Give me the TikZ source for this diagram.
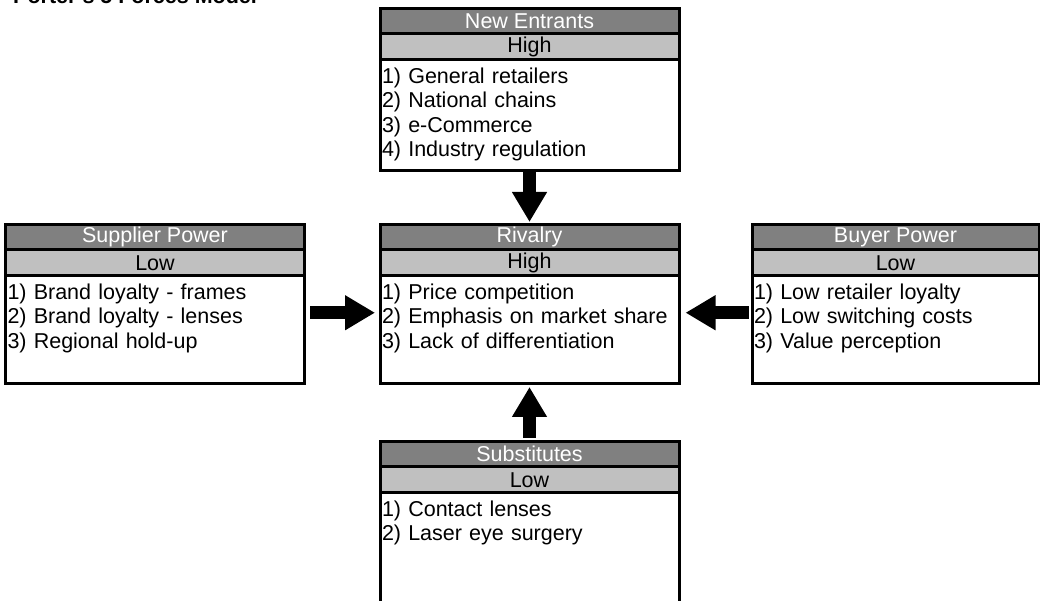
\documentclass[tikz,border=0pt]{standalone}
\usepackage{fontspec}
\setmainfont{Liberation Sans}
\usetikzlibrary{positioning,arrows.meta}
\definecolor{headgray}{RGB}{128,128,128}
\definecolor{levelgray}{RGB}{192,192,192}

\begin{document}
\begin{tikzpicture}[x=1pt, y=1pt, node distance=0pt]
        % Define styles
        \tikzstyle{head} = [rectangle, draw, line width=3pt, fill=headgray, text=white,
            minimum width=299pt, minimum height=25.5pt, inner sep=0pt, outer sep=0pt,
            font=\fontsize{21.5}{24.5}\selectfont]
        \tikzstyle{level} = [head, fill=levelgray, text=black, minimum height=26pt]
        \tikzstyle{list} = [rectangle, draw, line width=3pt, fill=white, text width=295pt,
            inner xsep=2pt, inner ysep=0pt, outer sep=0pt, align=left,
            text height=23.5pt, text depth=84pt, font=\fontsize{21.5}{24.5}\selectfont]
        \tikzstyle{force} = [line width=13pt, -{Triangle[width=33pt,length=30pt]}]

        \useasboundingbox (0,0) rectangle (1040,601);
        \clip (0,0) rectangle (1040,601);

        % Title
        \node [anchor=base west, inner sep=0pt, font=\bfseries\fontsize{21.5}{24.5}\selectfont]
            (title) at (13,597) {Porter's 5 Forces Model};

        % Nodes
        \node [head] (riv-head) at (529.5,363.75) {Rivalry};
        \node [level, below=of riv-head] (riv-level) {High};
        \node [list, below=of riv-level] (riv-list) {1) Price competition\\2) Emphasis on market share\\3) Lack of differentiation};

        \node [list, text depth=87pt, above=54pt of riv-head] (ne-list) {1) General retailers\\2) National chains\\3) e-Commerce\\4) Industry regulation};
        \node [level, above=of ne-list] (ne-level) {High};
        \node [head, above=of ne-level] (ne-head) {New Entrants};

        \node [head, left=75.5pt of riv-head] (sup-head) {Supplier Power};
        \node [level, below=of sup-head] (sup-level) {Low};
        \node [list, below=of sup-level] (sup-list) {1) Brand loyalty - frames\\2) Brand loyalty - lenses\\3) Regional hold-up};

        \node [head, minimum width=287pt, right=73pt of riv-head] (buy-head) {Buyer Power};
        \node [level, minimum width=287pt, below=of buy-head] (buy-level) {Low};
        \node [list, text width=283pt, below=of buy-level] (buy-list) {1) Low retailer loyalty\\2) Low switching costs\\3) Value perception};

        \node [head, below=58pt of riv-list] (sub-head) {Substitutes};
        \node [level, below=of sub-head] (sub-level) {Low};
        \node [list, text depth=120pt, below=of sub-level] (sub-list) {1) Contact lenses\\2) Laser eye surgery};

        % Arrows
        \draw [force, shorten <=1.5pt, shorten >=2.5pt] (ne-list) -- (riv-head);
        \draw [force, shorten <=5.5pt, shorten >=5pt] ([yshift=17pt]sup-list.east) -- ([yshift=17pt]riv-list.west);
        \draw [force, shorten <=3.5pt, shorten >=6.5pt] ([yshift=17pt]buy-list.west) -- ([yshift=17pt]riv-list.east);
        \draw [force, shorten <=3.5pt, shorten >=3.5pt] (sub-head) -- (riv-list);

\end{tikzpicture}
\end{document}
